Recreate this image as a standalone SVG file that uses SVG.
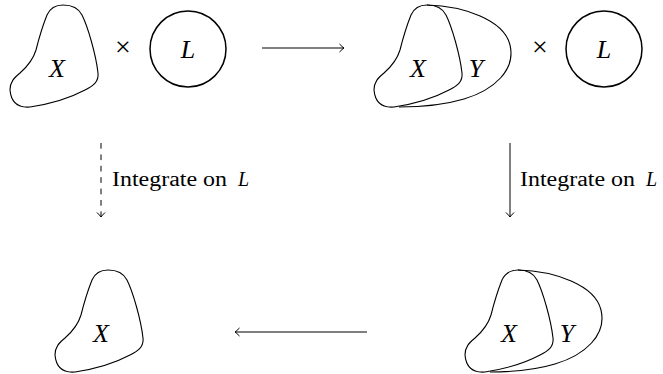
<svg xmlns="http://www.w3.org/2000/svg" xmlns:xlink="http://www.w3.org/1999/xlink" width="663" height="374" viewBox="0 0 663 374">
<style>
.shape{fill:none;stroke:#000;stroke-width:1.1;stroke-linejoin:round}
.circ{fill:none;stroke:#000;stroke-width:1.5}
text{font-family:'Liberation Serif','Times New Roman',serif;fill:#000}
.lbl{font-style:italic;font-size:26px;text-anchor:middle}
.op{font-size:28px;text-anchor:middle}
.edge{font-size:20px}
.conn{fill:none;stroke:#000;stroke-width:1}
</style>
<defs>
<path id="blobX" d="M 47,15 C 51,6 58,5 63,5 C 70,5 78,7 82,15 C 88,27 96,55 98,73 C 99,82 93,86 85,90 C 70,98 50,104 30,107 C 18,108 11,102 10,90 C 10,82 14,78 20,73 C 28,66 33,60 36,50 C 39,38 43,25 47,15 Z"/>
<path id="blobY" d="M 63,5 C 100,6 140,20 146,45 C 152,70 130,90 100,99 C 80,105 55,107 35,107"/>
<marker id="to" viewBox="-6 -6 8 12" markerWidth="8" markerHeight="12" refX="0" refY="0" orient="auto" markerUnits="userSpaceOnUse">
<path d="M -4.5,-4 Q -1.5,-1 0,0 Q -1.5,1 -4.5,4" fill="none" stroke="#000" stroke-width="1"/>
</marker>
</defs>

<g id="nodeTopLeft">
<use xlink:href="#blobX" class="shape"/>
<text class="lbl" x="57" y="77">X</text>
<text class="op" x="123" y="56">×</text>
<circle class="circ" cx="188" cy="49" r="38"/>
<text class="lbl" x="188" y="58">L</text>
</g>

<g id="nodeTopRight">
<g transform="translate(364,0)">
<use xlink:href="#blobX" class="shape"/>
<use xlink:href="#blobY" class="shape"/>
</g>
<text class="lbl" x="418" y="77">X</text>
<text class="lbl" x="476" y="77">Y</text>
<text class="op" x="540" y="56">×</text>
<circle class="circ" cx="604" cy="49" r="38"/>
<text class="lbl" x="604" y="58">L</text>
</g>

<g id="nodeBottomLeft">
<g transform="translate(45,265)">
<use xlink:href="#blobX" class="shape"/>
</g>
<text class="lbl" x="101" y="342">X</text>
</g>

<g id="nodeBottomRight">
<g transform="translate(455,265)">
<use xlink:href="#blobX" class="shape"/>
<use xlink:href="#blobY" class="shape"/>
</g>
<text class="lbl" x="509" y="342">X</text>
<text class="lbl" x="567" y="342">Y</text>
</g>

<g id="connectors">
<line class="conn" x1="262" y1="48" x2="344" y2="48" marker-end="url(#to)"/>
<line class="conn" x1="101" y1="143" x2="101" y2="217" stroke-dasharray="5.7,5.7" marker-end="url(#to)"/>
<line class="conn" x1="510" y1="143" x2="510" y2="217" marker-end="url(#to)"/>
<line class="conn" x1="367" y1="332" x2="235" y2="332" marker-end="url(#to)"/>
<text class="edge" x="112" y="186"><tspan textLength="115" lengthAdjust="spacingAndGlyphs">Integrate on</tspan><tspan x="238" font-style="italic">L</tspan></text>
<text class="edge" x="520" y="186"><tspan textLength="115" lengthAdjust="spacingAndGlyphs">Integrate on</tspan><tspan x="646" font-style="italic">L</tspan></text>
</g>
</svg>
